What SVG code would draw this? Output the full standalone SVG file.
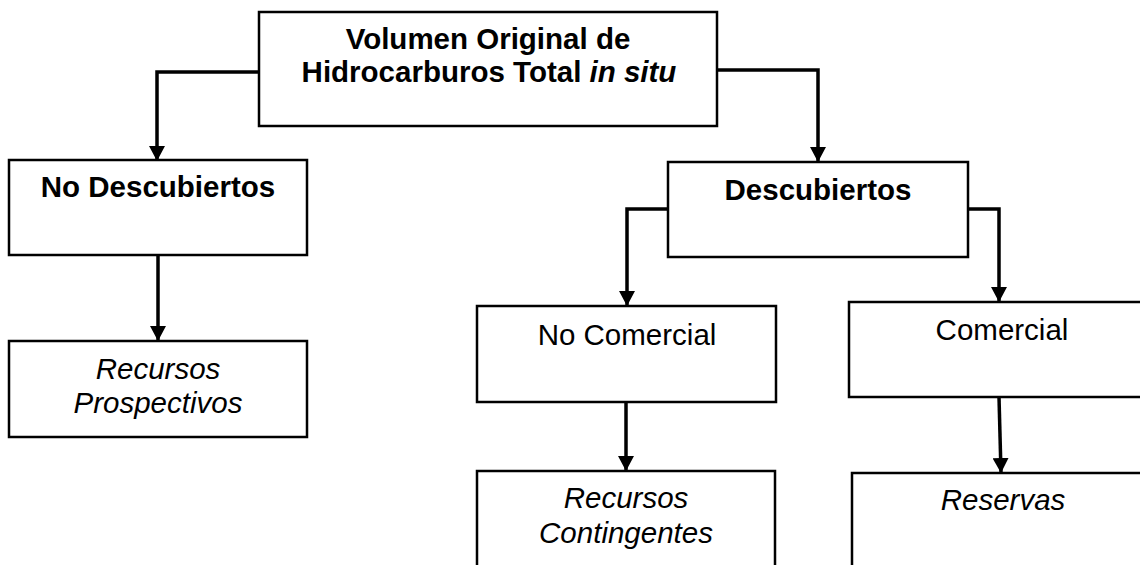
<svg xmlns="http://www.w3.org/2000/svg" width="1140" height="565" viewBox="0 0 1140 565">
<style>
.box{fill:#fff;stroke:#000;stroke-width:2.5}
.t{font-family:"Liberation Sans",Arial,sans-serif;font-size:29.5px;fill:#000;text-anchor:middle}
.b{font-weight:bold}
.i{font-style:italic}
.c{fill:none;stroke:#000;stroke-width:3.5}
</style>
<defs>
<marker id="ah" markerUnits="userSpaceOnUse" markerWidth="15" markerHeight="16" refX="15" refY="8" orient="auto" viewBox="0 0 15 16">
<path d="M0,0 L15,8 L0,16 z" fill="#000"/>
</marker>
</defs>
<rect width="1140" height="565" fill="#fff"/>
<g id="connectors">
<path class="c" d="M259,72 H157 V161" marker-end="url(#ah)"/>
<path class="c" d="M717,70 H818 V162" marker-end="url(#ah)"/>
<path class="c" d="M158,255 V341" marker-end="url(#ah)"/>
<path class="c" d="M668,209 H627 V306" marker-end="url(#ah)"/>
<path class="c" d="M968,209 H999 V302" marker-end="url(#ah)"/>
<path class="c" d="M626,402 V471" marker-end="url(#ah)"/>
<path class="c" d="M999,397 L1001,473" marker-end="url(#ah)"/>
</g>
<g id="n-total">
<rect class="box" x="259" y="12" width="458" height="114"/>
<text class="t b" x="488" y="49">Volumen Original de</text>
<text class="t b" x="489" y="82">Hidrocarburos Total <tspan class="i">in situ</tspan></text>
</g>
<g id="n-nodesc">
<rect class="box" x="9" y="160" width="298" height="95"/>
<text class="t b" x="158" y="197">No Descubiertos</text>
</g>
<g id="n-desc">
<rect class="box" x="668" y="162" width="300" height="95"/>
<text class="t b" x="818" y="200">Descubiertos</text>
</g>
<g id="n-prosp">
<rect class="box" x="9" y="341" width="298" height="96"/>
<text class="t i" x="158" y="379">Recursos</text>
<text class="t i" x="158" y="413">Prospectivos</text>
</g>
<g id="n-nocom">
<rect class="box" x="477" y="306" width="299" height="96"/>
<text class="t" x="627" y="345">No Comercial</text>
</g>
<g id="n-com">
<rect class="box" x="849" y="302" width="310" height="95"/>
<text class="t" x="1002" y="340">Comercial</text>
</g>
<g id="n-cont">
<rect class="box" x="477" y="471" width="298" height="110"/>
<text class="t i" x="626" y="508">Recursos</text>
<text class="t i" x="626" y="543">Contingentes</text>
</g>
<g id="n-res">
<rect class="box" x="852" y="473" width="310" height="110"/>
<text class="t i" x="1003" y="510">Reservas</text>
</g>
</svg>
